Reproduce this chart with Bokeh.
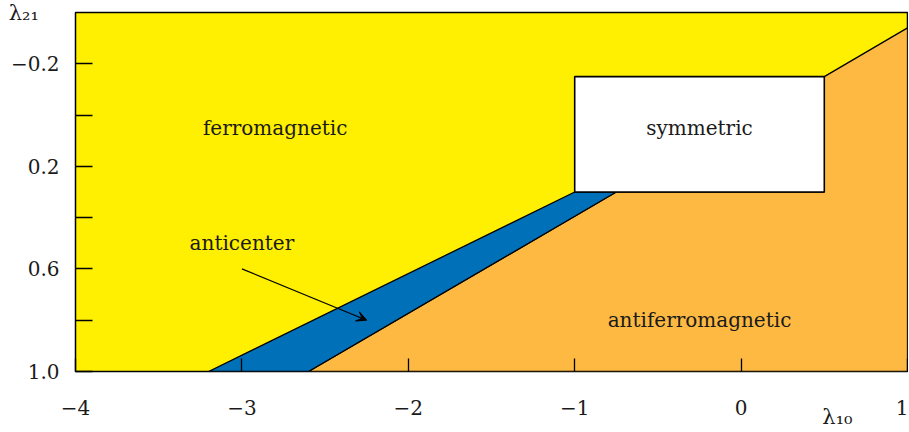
from bokeh.plotting import figure
from bokeh.models import Range1d, FixedTicker, Arrow, VeeHead
from bokeh.core.properties import value
from bokeh.embed import file_html
from bokeh.resources import INLINE

# ---- data ----
x_ticks = [-4.0, -3.0, -2.0, -1.0, 0.0, 1.0]
x_tick_labels = ["−4", "−3", "−2", "−1", "0", "1"]
y_ticks = [-0.2, 0.2, 0.6, 1.0]
y_tick_labels = ["−0.2", "0.2", "0.6", "1.0"]
y_minor_ticks = [0.0, 0.4, 0.8]
x_title = "λ₁₀"
y_title = "λ₂₁"

# phase region boundaries (lambda10, lambda21)
anticenter_x = [-3.2, -1.0, -0.75, -2.6]
anticenter_y = [1.0, 0.3, 0.3, 1.0]
antiferro_x = [-2.6, -0.75, 0.5, 0.5, 1.0, 1.0]
antiferro_y = [1.0, 0.3, 0.3, -0.15, -0.34, 1.0]
symmetric_x = [-1.0, 0.5]
symmetric_y = [-0.15, 0.3]

region_names = ["ferromagnetic", "symmetric", "anticenter", "antiferromagnetic"]
region_label_x = [-2.8, -0.25, -3.0, -0.25]
region_label_y = [0.05, 0.05, 0.5, 0.8]
arrow_start = (-3.0, 0.6)
arrow_end = (-2.25, 0.8)

YELLOW = "#FFEF00"
ORANGE = "#FDB941"
BLUE = "#0070B8"
INK = "#1a1a1a"
FONT = "DejaVu Serif"

p = figure(width=908, height=432, output_backend="svg", toolbar_location=None,
           x_range=Range1d(-4, 1), y_range=Range1d(1.0, -0.4))
p.min_border_left = 75
p.min_border_right = 1
p.min_border_top = 12
p.min_border_bottom = 61
p.background_fill_color = YELLOW
p.border_fill_color = "white"
p.outline_line_color = "black"
p.outline_line_width = 1.5
p.grid.visible = False

# regions
p.patch(antiferro_x, antiferro_y, fill_color=ORANGE, line_color="black", line_width=1.3)
p.patch(anticenter_x, anticenter_y, fill_color=BLUE, line_color="black", line_width=1.3)
p.quad(left=[symmetric_x[0]], right=[symmetric_x[1]], top=[symmetric_y[0]], bottom=[symmetric_y[1]],
       fill_color="white", line_color="black", line_width=1.6)

# region labels
p.text(x=region_label_x, y=region_label_y, text=region_names,
       text_font=value(FONT), text_font_size="20px",
       text_align="center", text_baseline="middle", text_color=INK)

p.add_layout(Arrow(x_start=arrow_start[0], y_start=arrow_start[1], x_end=arrow_end[0], y_end=arrow_end[1],
                   line_color="black", line_width=1.2,
                   end=VeeHead(size=10, fill_color="black", line_color="black", line_width=1)))

# axes
xa = p.xaxis[0]
xa.ticker = FixedTicker(ticks=x_ticks)
xa.major_label_overrides = {float(t): l for t, l in zip(x_ticks, x_tick_labels)}
xa.major_tick_in = 13
xa.major_tick_out = 0
xa.minor_tick_in = 0
xa.minor_tick_out = 0
xa.axis_line_color = None
xa.major_tick_line_color = "black"
xa.major_tick_line_width = 1.3
xa.major_label_standoff = 28
xa.major_label_text_font = FONT
xa.major_label_text_font_size = "20px"
xa.major_label_text_color = INK
xa.axis_label = x_title + "\u00a0" * 21
xa.axis_label_align = "end"
xa.axis_label_text_font = FONT
xa.axis_label_text_font_style = "normal"
xa.axis_label_text_font_size = "21px"
xa.axis_label_text_color = INK
xa.axis_label_standoff = -13

ya = p.yaxis[0]
ya.ticker = FixedTicker(ticks=y_ticks, minor_ticks=y_minor_ticks)
ya.major_label_overrides = {float(t): l for t, l in zip(y_ticks, y_tick_labels)}
ya.major_tick_in = 17
ya.major_tick_out = 0
ya.minor_tick_in = 17
ya.minor_tick_out = 0
ya.axis_line_color = None
ya.major_tick_line_color = "black"
ya.minor_tick_line_color = "black"
ya.major_tick_line_width = 1.3
ya.minor_tick_line_width = 1.3
ya.major_label_standoff = 16
ya.major_label_text_font = FONT
ya.major_label_text_font_size = "20px"
ya.major_label_text_color = INK
ya.axis_label = y_title
ya.axis_label_align = "start"
ya.axis_label_orientation = "horizontal"
ya.axis_label_text_font = FONT
ya.axis_label_text_font_style = "normal"
ya.axis_label_text_font_size = "21px"
ya.axis_label_text_color = INK
ya.axis_label_standoff = -31

open("out.html", "w").write(file_html(p, INLINE))
